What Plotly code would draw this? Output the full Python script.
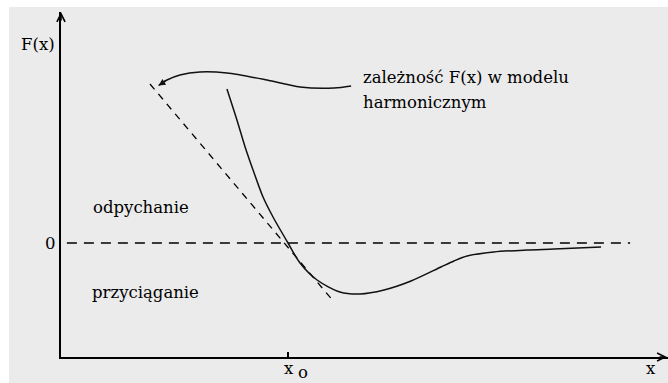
import plotly.graph_objects as go

# ---- data (x in units of x0, F in arbitrary units) ----
curve_x = [0.731, 0.775, 0.811, 0.846, 0.890, 0.934, 1.000, 1.053, 1.128, 1.229,
           1.317, 1.423, 1.542, 1.674, 1.731, 1.789, 1.907, 2.053, 2.172, 2.379]
curve_F = [1.54, 1.23, 0.96, 0.73, 0.46, 0.26, 0.00, -0.20, -0.37, -0.49,
           -0.51, -0.47, -0.38, -0.24, -0.18, -0.13, -0.09, -0.07, -0.06, -0.04]

tangent_x = [0.392, 1.203]
tangent_F = [1.59, -0.59]

zero_x = [0.026, 2.507]
zero_F = [0.0, 0.0]

pointer_x = [1.278, 1.203, 1.053, 0.907, 0.731, 0.612, 0.524, 0.467, 0.430]
pointer_F = [1.57, 1.55, 1.56, 1.63, 1.70, 1.71, 1.68, 1.63, 1.575]

x_range = [0.0, 2.674]
F_range = [-1.14, 2.31]

FONT = "DejaVu Serif"
INK = "#111111"

fig = go.Figure()

fig.add_trace(go.Scatter(x=zero_x, y=zero_F, mode="lines",
                         line=dict(color="black", width=1.4, dash="10px,7px"),
                         hoverinfo="skip", showlegend=False))
fig.add_trace(go.Scatter(x=tangent_x, y=tangent_F, mode="lines",
                         line=dict(color="black", width=1.3, dash="7px,6px"),
                         hoverinfo="skip", showlegend=False))
fig.add_trace(go.Scatter(x=curve_x, y=curve_F, mode="lines",
                         line=dict(color=INK, width=1.5, shape="spline", smoothing=0.8),
                         hoverinfo="skip", showlegend=False))
fig.add_trace(go.Scatter(x=pointer_x, y=pointer_F, mode="lines",
                         line=dict(color=INK, width=1.5, shape="spline", smoothing=0.8),
                         hoverinfo="skip", showlegend=False))

def txt(x, y, s, xanchor="center", ref="data", size=16.5):
    r = ("x", "y") if ref == "data" else ("paper", "paper")
    fig.add_annotation(x=x, y=y, xref=r[0], yref=r[1], text=s, showarrow=False,
                       xanchor=xanchor, yanchor="middle",
                       font=dict(family=FONT, size=size, color="black"))

txt(-0.0387, 0.9072, "F(x)", ref="paper")
txt(-0.0173, 0.3304, "0", ref="paper")
txt(0.132, 0.36, "odpychanie", "left")
txt(0.128, -0.49, "przyciąganie", "left")
txt(1.322, 1.66, "zależność F(x) w modelu", "left")
txt(1.322, 1.41, "harmonicznym", "left")
txt(0.3756, -0.034, "x", ref="paper")
txt(0.3979, -0.0445, "o", ref="paper")
txt(0.9728, -0.0319, "x", ref="paper")

# axis arrowheads
fig.add_annotation(x=0, y=1, ax=0, ay=10, xref="paper", yref="paper",
                   axref="pixel", ayref="pixel", text="", showarrow=True, arrowhead=5,
                   arrowsize=1, arrowwidth=1.6, arrowcolor="black", standoff=0)
fig.add_annotation(x=1, y=0, ax=-10, ay=0,
                   xref="paper", yref="paper", axref="pixel", ayref="pixel", text="",
                   showarrow=True, arrowhead=5, arrowsize=1, arrowwidth=1.6,
                   arrowcolor="black", standoff=0)
# pointer arrowhead
fig.add_annotation(x=pointer_x[-1], y=pointer_F[-1], ax=pointer_x[-2], ay=pointer_F[-2],
                   xref="x", yref="y", axref="x", ayref="y", text="", showarrow=True,
                   arrowhead=2, arrowsize=0.9, arrowwidth=1.5, arrowcolor=INK, standoff=0)

fig.add_shape(type="rect", xref="paper", yref="paper", x0=-0.0857, x1=1.0,
              y0=-0.08, y1=1.0145, fillcolor="#ebebeb", line=dict(width=0), layer="below")

fig.update_layout(
    width=668, height=383,
    margin=dict(l=61, r=0, t=12, b=26),
    paper_bgcolor="white", plot_bgcolor="rgba(0,0,0,0)",
    xaxis=dict(range=x_range, showgrid=False, zeroline=False, showline=True,
               linecolor="black", linewidth=2, ticks="inside", tickvals=[1],
               ticklen=5, tickwidth=1.5, tickcolor="black", showticklabels=False),
    yaxis=dict(range=F_range, showgrid=False, zeroline=False, showline=True,
               linecolor="black", linewidth=2, ticks="", showticklabels=False),
)

fig.write_html("out.html")
